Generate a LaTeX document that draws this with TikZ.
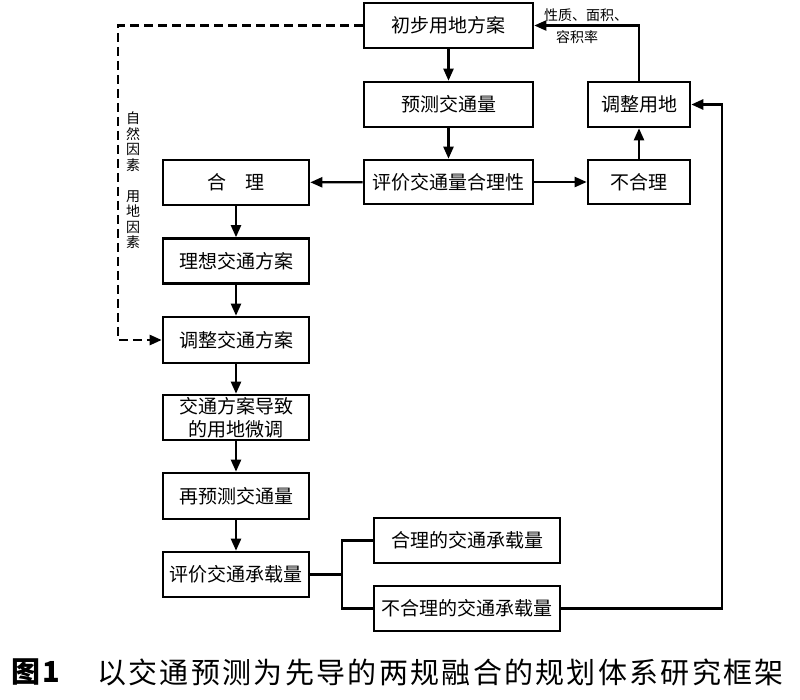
\documentclass[tikz,border=0pt]{standalone}
\usepackage{fontspec}
\setmainfont{Noto Sans CJK SC}
\newfontfamily\capfont[LetterSpace=8]{Noto Sans CJK SC}
\usetikzlibrary{arrows.meta}
\begin{document}
\begin{tikzpicture}[x=1pt,y=-1pt,
  box/.style={draw,line width=2.6pt,minimum width=#1,minimum height=45pt,inner sep=0pt,
    font=\fontsize{19}{21}\selectfont},
  box/.default=146pt,
  arr/.style={line width=2.2pt,-{Triangle[length=12pt,width=10pt]}},
  ln/.style={line width=2.2pt},
  dasharr/.style={line width=2.4pt,dash pattern=on 9pt off 5pt,-{Triangle[length=12pt,width=10pt]}},
  small/.style={font=\fontsize{14}{15.5}\selectfont,inner sep=0pt}]
\useasboundingbox (0,0) rectangle (800,699);
% top / right part
\node[box=169pt] (chubu) at (448.5,25.5) {初步用地方案};
\node[box=169pt] (yuce) at (448.5,104.5) {预测交通量};
\node[box=169pt,minimum height=44pt] (pjhl) at (448.5,182) {评价交通量合理性};
\node[box=102pt,minimum height=44pt] (buheli) at (639,182) {不合理};
\node[box=102pt] (tzyd) at (639,104.5) {调整用地};
% left column
\node[box] (heli) at (236,182.5) {合　理};
\node[box] (lixiang) at (236,261) {理想交通方案};
\node[box,minimum height=46pt] (tzjt) at (236,340) {调整交通方案};
\node[box,align=center,font=\fontsize{19}{23}\selectfont] (daozhi) at (236,417.5) {交通方案导致\\的用地微调};
\node[box,minimum height=46pt] (zaiyuce) at (236,496) {再预测交通量};
\node[box] (pjcz) at (236,574.5) {评价交通承载量};
\node[box=186pt] (hlcz) at (467,540.5) {合理的交通承载量};
\node[box=186pt] (bhlcz) at (467,608.5) {不合理的交通承载量};
% helper coordinates
\coordinate (br) at (342,574.5);
\coordinate (rl) at (722,0);
\coordinate (dl) at (118,0);
% connectors
\draw[arr] (chubu) -- (yuce);
\draw[arr] (yuce) -- (pjhl);
\draw[arr] (pjhl) -- (buheli);
\draw[arr] (pjhl) -- (heli);
\draw[arr] (buheli) -- (tzyd);
\draw[arr] (tzyd.north) |- (chubu.east);
\draw[arr] (heli) -- (lixiang);
\draw[arr] (lixiang) -- (tzjt);
\draw[arr] (tzjt) -- (daozhi);
\draw[arr] (daozhi) -- (zaiyuce);
\draw[arr] (zaiyuce) -- (pjcz);
\draw[ln] (pjcz.east) -- (br);
\draw[ln] (br) |- (hlcz.west);
\draw[ln] (br) |- (bhlcz.west);
\draw[arr,line width=2.6pt] (bhlcz.east) -- (bhlcz.east -| rl) -- (tzyd.east -| rl) -- (tzyd.east);
\draw[dasharr] (chubu.west) -- (chubu.west -| dl) -- (tzjt.west -| dl) -- (tzjt.west);
% labels
\node[small] (lab1) at (586,15) {性质、面积、};
\node[small] (lab2) at (577,37) {容积率};
\node[small,align=center,anchor=north] (vlab) at (133,112) {自\\然\\因\\素\\[15.5pt]用\\地\\因\\素};
% caption
\node[anchor=west,inner sep=0pt,font=\capfont\bfseries\fontsize{29}{31}\selectfont] (fig) at (11,672) {图1};
\node[anchor=west,inner sep=0pt,font=\capfont\fontsize{29}{31}\selectfont] (cap) at (97,672) {以交通预测为先导的两规融合的规划体系研究框架};
\end{tikzpicture}
\end{document}
